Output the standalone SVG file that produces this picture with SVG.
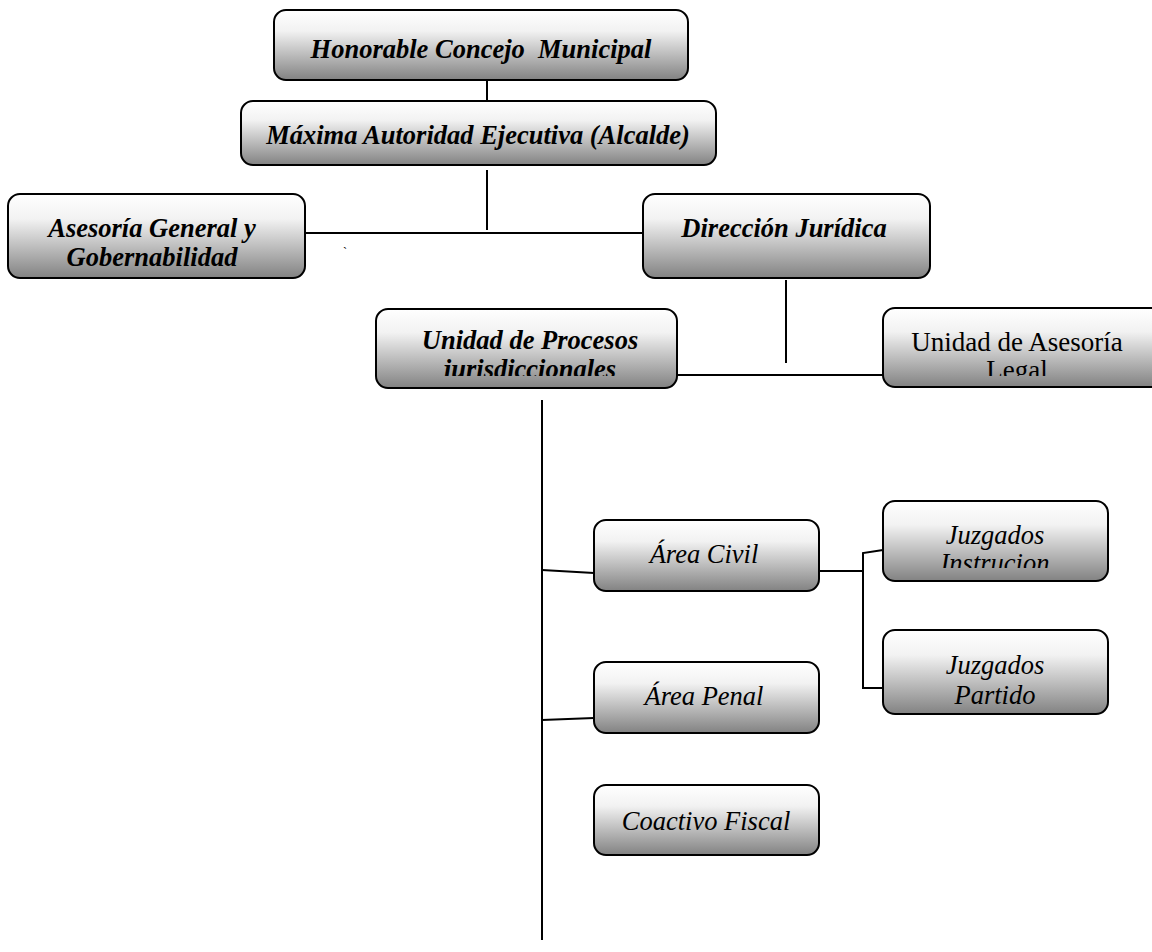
<svg xmlns="http://www.w3.org/2000/svg" width="1152" height="952" viewBox="0 0 1152 952">
<defs>
<linearGradient id="g" x1="0" y1="0" x2="0" y2="1">
<stop offset="0" stop-color="#ffffff"/>
<stop offset="0.3" stop-color="#f2f2f2"/>
<stop offset="1" stop-color="#828282"/>
</linearGradient>
<clipPath id="c1"><rect x="376" y="310" width="301" height="66"/></clipPath>
<clipPath id="c2"><rect x="883" y="308" width="269" height="68"/></clipPath>
<clipPath id="c3"><rect x="883" y="501" width="225" height="67"/></clipPath>
</defs>
<style>
.box{fill:url(#g);stroke:#000;stroke-width:2}
.bi{font-family:"Liberation Serif",serif;font-weight:bold;font-style:italic;font-size:26.5px;text-anchor:middle;fill:#000}
.it{font-family:"Liberation Serif",serif;font-style:italic;font-size:26.5px;text-anchor:middle;fill:#000}
.rg{font-family:"Liberation Serif",serif;font-size:27px;text-anchor:middle;fill:#000}
.ln{stroke:#000;stroke-width:2;fill:none}
</style>
<rect width="1152" height="952" fill="#fff"/>
<g id="connectors">
<line class="ln" x1="487" y1="80" x2="487" y2="102"/>
<line class="ln" x1="487" y1="170" x2="487" y2="230"/>
<line class="ln" x1="305" y1="233" x2="643" y2="233"/>
<line class="ln" x1="786" y1="280" x2="786" y2="363"/>
<line class="ln" x1="677" y1="375" x2="883" y2="375"/>
<line class="ln" x1="542" y1="400" x2="542" y2="940"/>
<polyline class="ln" points="542,570 594,573"/>
<polyline class="ln" points="819,571 863,571"/>
<polyline class="ln" points="883,550 863,553 863,688 883,688"/>
<polyline class="ln" points="542,720 594,718"/>
</g>
<text x="343" y="256" font-family="Liberation Serif,serif" font-size="12">`</text>
<g id="n1">
<rect class="box" x="274" y="10" width="414" height="70" rx="12"/>
<text class="bi" x="481" y="58" xml:space="preserve">Honorable Concejo  Municipal</text>
</g>
<g id="n2">
<rect class="box" x="241" y="101" width="475" height="64" rx="12"/>
<text class="bi" x="478" y="144">Máxima Autoridad Ejecutiva (Alcalde)</text>
</g>
<g id="n3">
<rect class="box" x="8" y="194" width="297" height="84" rx="12"/>
<text class="bi" x="152" y="237">Asesoría General y</text>
<text class="bi" x="152" y="266">Gobernabilidad</text>
</g>
<g id="n4">
<rect class="box" x="643" y="194" width="287" height="84" rx="12"/>
<text class="bi" x="784" y="237">Dirección Jurídica</text>
</g>
<g id="n5">
<rect class="box" x="376" y="309" width="301" height="79" rx="12"/>
<g clip-path="url(#c1)">
<text class="bi" x="530" y="349">Unidad de Procesos</text>
<text class="bi" x="530" y="378">jurisdiccionales</text>
</g>
</g>
<g id="n6">
<rect class="box" x="883" y="308" width="280" height="79" rx="12"/>
<g clip-path="url(#c2)">
<text class="rg" x="1017" y="351">Unidad de Asesoría</text>
<text class="rg" x="1017" y="379">Legal</text>
</g>
</g>
<g id="n7">
<rect class="box" x="594" y="520" width="225" height="71" rx="12"/>
<text class="it" x="704" y="563">Área Civil</text>
</g>
<g id="n8">
<rect class="box" x="883" y="501" width="225" height="80" rx="12"/>
<g clip-path="url(#c3)">
<text class="it" x="995" y="544">Juzgados</text>
<text class="it" x="995" y="572">Instrucion</text>
</g>
</g>
<g id="n9">
<rect class="box" x="883" y="630" width="225" height="84" rx="12"/>
<text class="it" x="995" y="674">Juzgados</text>
<text class="it" x="995" y="704">Partido</text>
</g>
<g id="n10">
<rect class="box" x="594" y="662" width="225" height="71" rx="12"/>
<text class="it" x="704" y="705">Área Penal</text>
</g>
<g id="n11">
<rect class="box" x="594" y="785" width="225" height="70" rx="12"/>
<text class="it" x="706" y="830">Coactivo Fiscal</text>
</g>
</svg>
